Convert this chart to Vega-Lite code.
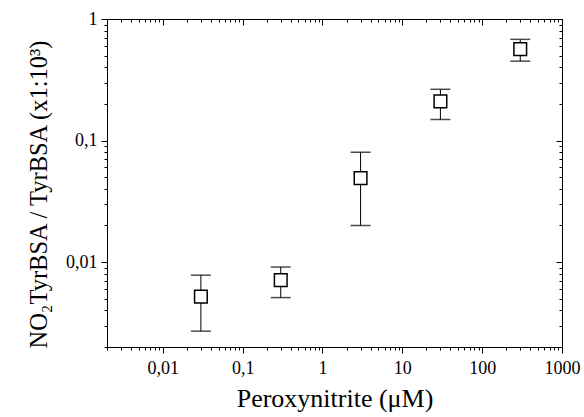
{
  "$schema": "https://vega.github.io/schema/vega-lite/v6.json",
  "autosize": "none",
  "width": 455,
  "height": 328,
  "padding": {"left": 107, "top": 19, "right": 22, "bottom": 70},
  "background": "white",
  "config": {
    "view": {"stroke": "black", "strokeWidth": 1},
    "font": "Liberation Serif",
    "axis": {
      "grid": false,
      "domainColor": "black",
      "tickColor": "black",
      "labelColor": "black",
      "titleColor": "black",
      "labelFont": "Liberation Serif",
      "titleFont": "Liberation Serif",
      "titleFontWeight": "normal",
      "labelFontSize": 18,
      "titleFontSize": 26,
      "labelOverlap": false,
      "labelFlush": false,
      "labelBound": false
    }
  },
  "data": {
    "values": [
      {"conc": 0.03, "ratio": 0.0052, "lo": 0.0027, "hi": 0.0078},
      {"conc": 0.3, "ratio": 0.0071, "lo": 0.0051, "hi": 0.0091},
      {"conc": 3, "ratio": 0.049, "lo": 0.020, "hi": 0.080},
      {"conc": 30, "ratio": 0.21, "lo": 0.149, "hi": 0.264},
      {"conc": 300, "ratio": 0.565, "lo": 0.45, "hi": 0.68}
    ]
  },
  "resolve": {"axis": {"x": "independent", "y": "independent"}},
  "layer": [
    {
      "mark": {"type": "rule", "color": "black", "strokeWidth": 1},
      "encoding": {
        "x": {
          "field": "conc", "type": "quantitative",
          "scale": {"type": "log", "domain": [0.002, 1000], "nice": false},
          "axis": {
            "orient": "top", "title": null, "labels": false, "domain": false,
            "values": [0.002,0.003,0.004,0.005,0.006,0.007,0.008,0.009,0.01,0.02,0.03,0.04,0.05,0.06,0.07,0.08,0.09,0.1,0.2,0.3,0.4,0.5,0.6,0.7,0.8,0.9,1,2,3,4,5,6,7,8,9,10,20,30,40,50,60,70,80,90,100,200,300,400,500,600,700,800,900,1000],
            "tickSize": {"condition": {"test": "abs(log(datum.value)/LN10 - round(log(datum.value)/LN10)) < 1e-6", "value": -6}, "value": -3}
          }
        },
        "y": {
          "field": "lo", "type": "quantitative",
          "scale": {"type": "log", "domain": [0.002, 1], "nice": false},
          "axis": {
            "orient": "right", "title": null, "labels": false, "domain": false,
            "values": [0.002,0.003,0.004,0.005,0.006,0.007,0.008,0.009,0.01,0.02,0.03,0.04,0.05,0.06,0.07,0.08,0.09,0.1,0.2,0.3,0.4,0.5,0.6,0.7,0.8,0.9,1],
            "tickSize": {"condition": {"test": "abs(log(datum.value)/LN10 - round(log(datum.value)/LN10)) < 1e-6", "value": -6}, "value": -3}
          }
        },
        "y2": {"field": "hi"}
      }
    },
    {
      "mark": {"type": "tick", "color": "black", "orient": "horizontal", "size": 20, "thickness": 1.5},
      "encoding": {
        "x": {"field": "conc", "type": "quantitative", "scale": {"type": "log", "domain": [0.002, 1000], "nice": false}, "axis": null},
        "y": {"field": "lo", "type": "quantitative", "scale": {"type": "log", "domain": [0.002, 1], "nice": false}, "axis": null}
      }
    },
    {
      "mark": {"type": "tick", "color": "black", "orient": "horizontal", "size": 20, "thickness": 1.5},
      "encoding": {
        "x": {"field": "conc", "type": "quantitative", "scale": {"type": "log", "domain": [0.002, 1000], "nice": false}, "axis": null},
        "y": {"field": "hi", "type": "quantitative", "scale": {"type": "log", "domain": [0.002, 1], "nice": false}, "axis": null}
      }
    },
    {
      "mark": {"type": "point", "shape": "square", "filled": true, "fill": "white", "stroke": "black", "strokeWidth": 1.5, "size": 160, "opacity": 1},
      "encoding": {
        "x": {
          "field": "conc", "type": "quantitative",
          "scale": {"type": "log", "domain": [0.002, 1000], "nice": false},
          "axis": {
            "orient": "bottom", "title": "Peroxynitrite (μM)", "titlePadding": 8,
            "values": [0.002,0.003,0.004,0.005,0.006,0.007,0.008,0.009,0.01,0.02,0.03,0.04,0.05,0.06,0.07,0.08,0.09,0.1,0.2,0.3,0.4,0.5,0.6,0.7,0.8,0.9,1,2,3,4,5,6,7,8,9,10,20,30,40,50,60,70,80,90,100,200,300,400,500,600,700,800,900,1000],
            "labelExpr": "abs(log(datum.value)/LN10 - round(log(datum.value)/LN10)) < 1e-6 ? replace(format(datum.value, '~g'), '.', ',') : ''",
            "labelPadding": 6,
            "tickSize": {"condition": {"test": "abs(log(datum.value)/LN10 - round(log(datum.value)/LN10)) < 1e-6", "value": 6}, "value": 3}
          }
        },
        "y": {
          "field": "ratio", "type": "quantitative",
          "scale": {"type": "log", "domain": [0.002, 1], "nice": false},
          "axis": {
            "orient": "left", "title": "NO₂TyrBSA / TyrBSA (x1:10³)", "titlePadding": 14, "titleFontSize": 24.5, "titleY": 175,
            "values": [0.002,0.003,0.004,0.005,0.006,0.007,0.008,0.009,0.01,0.02,0.03,0.04,0.05,0.06,0.07,0.08,0.09,0.1,0.2,0.3,0.4,0.5,0.6,0.7,0.8,0.9,1],
            "labelExpr": "abs(log(datum.value)/LN10 - round(log(datum.value)/LN10)) < 1e-6 ? replace(format(datum.value, '~g'), '.', ',') : ''",
            "labelPadding": 4,
            "tickSize": {"condition": {"test": "abs(log(datum.value)/LN10 - round(log(datum.value)/LN10)) < 1e-6", "value": 6}, "value": 3}
          }
        }
      }
    }
  ]
}
